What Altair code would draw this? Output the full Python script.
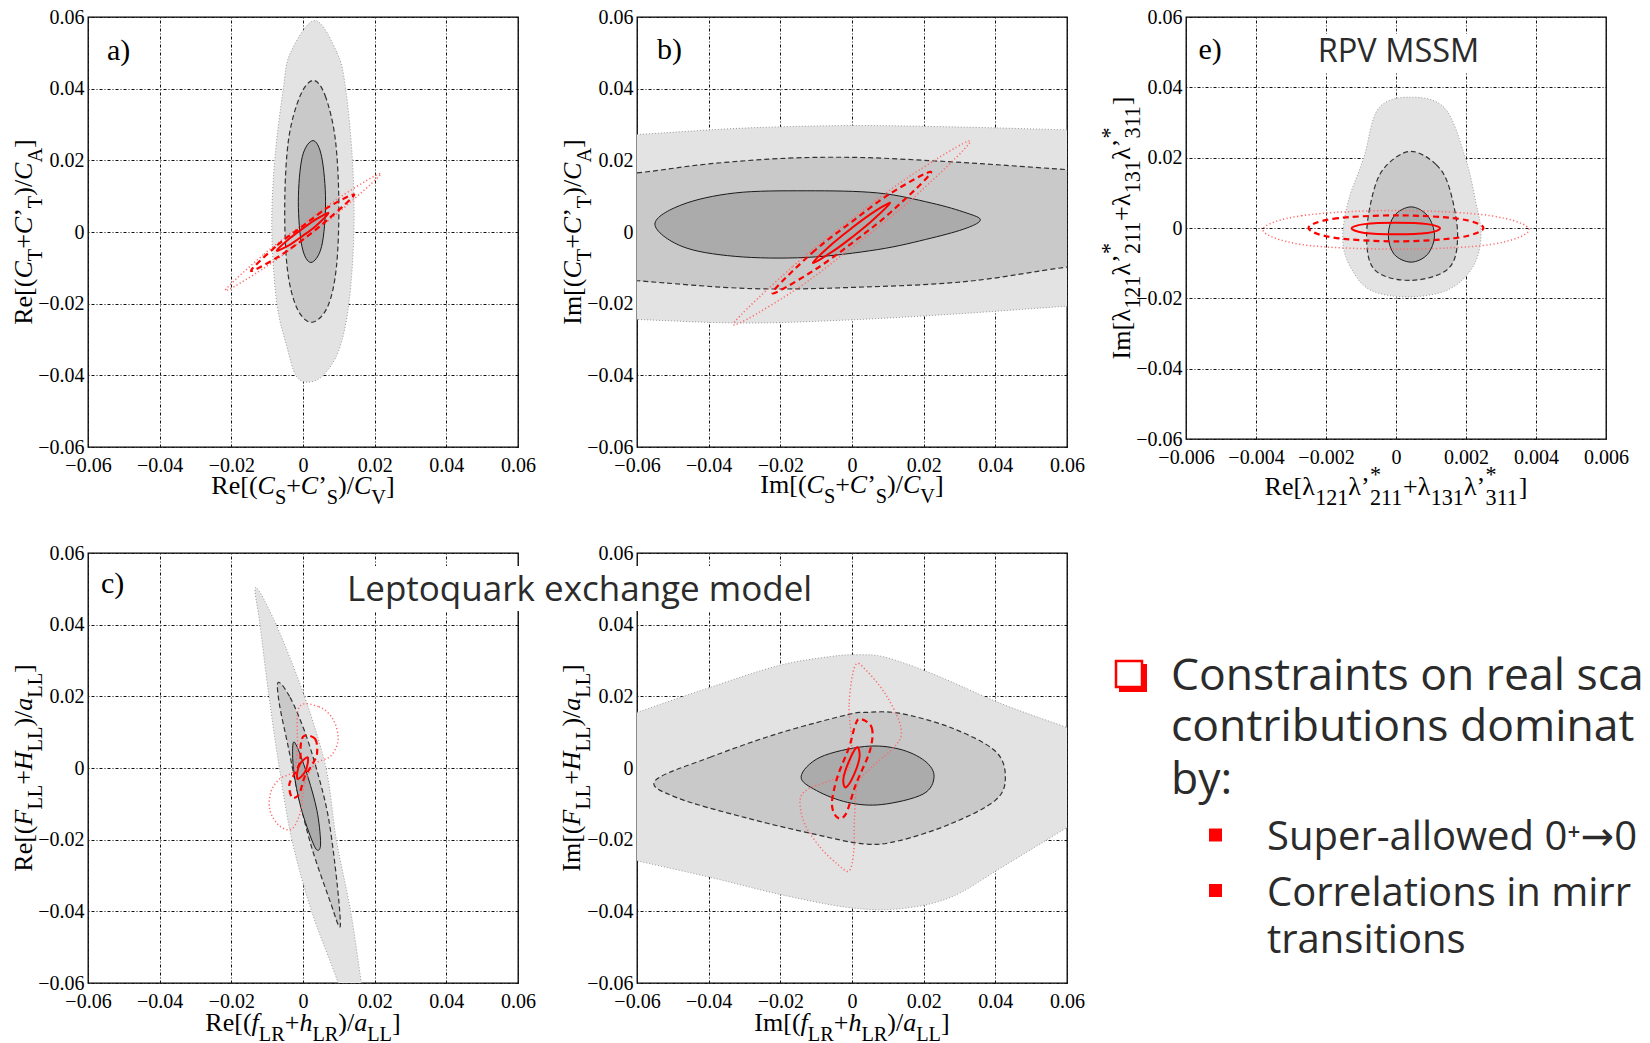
import altair as alt
import pandas as pd

# ---------------- axes ----------------
TICKS = [-0.06, -0.04, -0.02, 0.0, 0.02, 0.04, 0.06]
TICKS_E_X = [-0.006, -0.004, -0.002, 0.0, 0.002, 0.004, 0.006]
DOM = [-0.06, 0.06]
DOM_E_X = [-0.006, 0.006]

# ---------------- contour vertices ----------------
# panel a
A_OUT = [(0.0033, 0.0590), (0.0095, 0.050), (0.0119, 0.040), (0.0138, 0.020), (0.0142, 0.0),
         (0.0128, -0.020), (0.0100, -0.033), (0.0056, -0.040), (0.0013, -0.0419), (-0.0020, -0.040),
         (-0.0045, -0.032), (-0.0073, -0.020), (-0.0087, 0.0), (-0.0079, 0.020), (-0.0055, 0.040),
         (-0.0035, 0.050)]
A_MID = [(0.0029, 0.0423), (0.0062, 0.038), (0.0090, 0.026), (0.0100, 0.008), (0.0093, -0.010),
         (0.0068, -0.021), (0.0023, -0.0252), (-0.0018, -0.021), (-0.0044, -0.010), (-0.0051, 0.008),
         (-0.0040, 0.026), (-0.0008, 0.038)]
A_IN = [(0.0028, 0.0255), (0.0052, 0.021), (0.0063, 0.0085), (0.0052, -0.004), (0.0022, -0.0085),
        (-0.0003, -0.004), (-0.0013, 0.0085), (-0.0002, 0.021)]
A_RDOT = [(-0.0217, -0.0163), (-0.0109, -0.0062), (0.0, 0.0022), (0.0109, 0.0101), (0.0217, 0.0163),
          (0.0109, 0.0063), (0.0, -0.0022), (-0.0109, -0.0101)]
A_RDASH = [(-0.0145, -0.0108), (-0.0072, -0.0037), (0.0, 0.0017), (0.0072, 0.0070), (0.0143, 0.0104),
           (0.0072, 0.0037), (0.0, -0.0021), (-0.0072, -0.0071)]
A_RSOL = [(-0.0073, -0.0052), (-0.0036, -0.0017), (0.0, 0.0010), (0.0036, 0.0035), (0.0071, 0.0053),
          (0.0036, 0.0017), (0.0, -0.0010), (-0.0036, -0.0035)]
# panel b
B_OUT = [(-0.08, 0.0262), (-0.06, 0.0272), (-0.03, 0.0290), (0.0, 0.0297), (0.03, 0.0293), (0.06, 0.0285),
         (0.08, 0.0280), (0.08, -0.0195), (0.06, -0.0207), (0.03, -0.0228), (0.0, -0.0245),
         (-0.03, -0.0254), (-0.06, -0.0244), (-0.08, -0.0236)]
B_MID = [(-0.08, 0.0150), (-0.06, 0.0165), (-0.04, 0.0190), (-0.018, 0.0206), (0.002, 0.0208),
         (0.022, 0.0199), (0.04, 0.0188), (0.06, 0.0174), (0.08, 0.0160), (0.08, -0.0080), (0.06, -0.0098),
         (0.032, -0.0138), (0.002, -0.0154), (-0.028, -0.0158), (-0.06, -0.0136), (-0.08, -0.0120)]
B_IN = [(-0.055, 0.0022), (-0.0475, 0.0076), (-0.0326, 0.0109), (-0.0127, 0.0115), (0.0072, 0.0109),
        (0.0221, 0.0081), (0.032, 0.0053), (0.0358, 0.0034), (0.032, 0.0011), (0.0221, -0.0017),
        (0.0072, -0.0049), (-0.0127, -0.0071), (-0.0326, -0.0068), (-0.0475, -0.0040)]
B_RDOT = [(-0.0331, -0.0258), (-0.0165, -0.0096), (0.0, 0.0037), (0.0165, 0.0158), (0.033, 0.0253),
          (0.0165, 0.0090), (0.0, -0.0043), (-0.0165, -0.0166)]
B_RDASH = [(-0.0222, -0.0170), (-0.0111, -0.0058), (0.0, 0.0029), (0.0111, 0.0110), (0.0221, 0.0167),
           (0.0111, 0.0058), (0.0, -0.0031), (-0.0111, -0.0110)]
B_RSOL = [(-0.0109, -0.0086), (-0.0055, -0.0033), (-0.0002, 0.0010), (0.0052, 0.0050), (0.0106, 0.0081),
          (0.0052, 0.0028), (-0.0002, -0.0016), (-0.0055, -0.0055)]
# panel e
E_OUT = [(0.00043, 0.0372), (0.00140, 0.0340), (0.00198, 0.0200), (0.00228, 0.0074), (0.00243, -0.0021),
         (0.00220, -0.0110), (0.00150, -0.0175), (0.00038, -0.0196), (-0.00070, -0.0178),
         (-0.00125, -0.0120), (-0.00152, -0.0040), (-0.00137, 0.0074), (-0.00092, 0.0200),
         (-0.00050, 0.0340)]
E_MID = [(0.00043, 0.0218), (0.00115, 0.0180), (0.00153, 0.0112), (0.00176, -0.0021), (0.00150, -0.0115),
         (0.00043, -0.0149), (-0.00060, -0.0120), (-0.00084, -0.0021), (-0.00062, 0.0112),
         (-0.00025, 0.0180)]
E_IN = [(0.00043, 0.0060), (0.00090, 0.0035), (0.00110, -0.0021), (0.00090, -0.0075), (0.00043, -0.0097),
        (-0.00005, -0.0075), (-0.00022, -0.0021), (-0.00005, 0.0035)]
E_RDOT = [(-0.0038, -0.0005), (-0.0027, 0.0035), (0.0, 0.0050), (0.0027, 0.0035), (0.0038, -0.0005),
          (0.0027, -0.0047), (0.0, -0.0060), (-0.0027, -0.0047)]
E_RDASH = [(-0.0025, 0.0), (-0.0018, 0.0026), (0.0, 0.0036), (0.0018, 0.0026), (0.0025, 0.0),
           (0.0018, -0.0027), (0.0, -0.0038), (-0.0018, -0.0027)]
E_RSOL = [(-0.00127, -0.0001), (-0.0009, 0.0011), (0.0, 0.0015), (0.0009, 0.0011), (0.00126, -0.0001),
          (0.0009, -0.0014), (0.0, -0.0018), (-0.0009, -0.0014)]
# panel c
C_OUT = [(-0.0132, 0.0504), (-0.0075, 0.040), (0.0004, 0.020), (0.0064, 0.0), (0.0093, -0.020),
         (0.0133, -0.040), (0.0163, -0.060), (0.0180, -0.070), (0.0140, -0.075), (0.0098, -0.060),
         (0.0024, -0.040), (-0.0031, -0.020), (-0.0066, 0.0), (-0.0095, 0.020), (-0.0120, 0.040)]
C_MID = [(-0.0069, 0.0239), (-0.0036, 0.0197), (0.0004, 0.0104), (0.0039, -0.0007), (0.0069, -0.0128),
         (0.0089, -0.0268), (0.0103, -0.0407), (0.0101, -0.0443), (0.0078, -0.0379), (0.0024, -0.0221),
         (-0.0016, -0.0063), (-0.0041, 0.0058), (-0.0066, 0.0179)]
C_IN = [(-0.0028, 0.0067), (-0.0016, 0.0058), (0.0014, -0.0026), (0.0039, -0.0119), (0.0049, -0.0203),
        (0.0044, -0.0229), (0.0029, -0.0212), (-0.0006, -0.0110), (-0.0026, -0.0007)]
C_RDOT = [(-0.0011, 0.0169), (0.0044, 0.0171), (0.0083, 0.0137), (0.0098, 0.0081), (0.0078, 0.0034),
          (0.0034, 0.0011), (0.0004, -0.0045), (-0.0006, -0.0119), (-0.0031, -0.0170), (-0.0066, -0.0161),
          (-0.0092, -0.0119), (-0.0090, -0.0068), (-0.0066, -0.0031), (-0.0026, -0.0007), (-0.0016, 0.0058)]
C_RDASH = [(0.0004, 0.0090), (0.0034, 0.0081), (0.0039, 0.0039), (0.0024, 0.0007), (0.0004, -0.0026),
           (-0.0011, -0.0073), (-0.0031, -0.0082), (-0.0038, -0.0045), (-0.0021, -0.0012), (-0.0008, 0.0020),
           (-0.0006, 0.0067)]
C_RSOL = [(-0.0014, -0.0031), (-0.0016, -0.0012), (-0.0008, 0.0012), (0.0012, 0.0030), (0.0013, 0.0012),
          (0.0005, -0.0012)]
# panel d
D_OUT = [(-0.08, 0.0086), (-0.06, 0.0155), (-0.0396, 0.0225), (-0.0204, 0.0286), (-0.0060, 0.0311),
         (0.0016, 0.0316), (0.0093, 0.0309), (0.0227, 0.0262), (0.0418, 0.0179), (0.06, 0.0113),
         (0.08, 0.0043), (0.08, -0.0046), (0.06, -0.0166), (0.0418, -0.0277), (0.0275, -0.0361),
         (0.0131, -0.0393), (-0.0012, -0.0389), (-0.0204, -0.0352), (-0.0396, -0.0305), (-0.06, -0.0259),
         (-0.08, -0.0214)]
D_MID = [(-0.0549, -0.0035), (-0.0396, 0.0030), (-0.0204, 0.0097), (-0.0012, 0.0149), (0.0035, 0.0155),
         (0.0131, 0.0153), (0.0275, 0.0113), (0.0399, 0.0048), (0.0428, -0.0026), (0.0399, -0.0091),
         (0.0275, -0.0156), (0.0131, -0.0203), (0.0035, -0.0212), (-0.0108, -0.0184), (-0.0300, -0.0138),
         (-0.0491, -0.0082)]
D_IN = [(-0.0142, -0.0024), (-0.0089, 0.0030), (0.0035, 0.0060), (0.0131, 0.0053), (0.0203, 0.0020),
        (0.0229, -0.0024), (0.0198, -0.0073), (0.0083, -0.0102), (-0.0012, -0.0096), (-0.0099, -0.0063)]
D_RDOT = [(-0.0001, 0.0067), (-0.0008, 0.0179), (0.0009, 0.0286), (0.0040, 0.0272), (0.0093, 0.0207),
          (0.0131, 0.0132), (0.0136, 0.0086), (0.0107, 0.0048), (0.0055, 0.0002), (0.0016, -0.0045),
          (0.0007, -0.0138), (0.0005, -0.0231), (-0.0008, -0.0287), (-0.0041, -0.0268), (-0.0089, -0.0221),
          (-0.0132, -0.0156), (-0.0145, -0.0091), (-0.0123, -0.0059), (-0.0060, -0.0035), (-0.0012, -0.0007)]
D_RDASH = [(0.0021, 0.0137), (0.0055, 0.0113), (0.0050, 0.0048), (0.0011, -0.0045), (-0.0017, -0.0128),
           (-0.0041, -0.0138), (-0.0056, -0.0100), (-0.0041, -0.0026), (-0.0008, 0.0058), (0.0007, 0.0113)]
D_RSOL = [(0.0014, 0.0058), (0.0021, 0.0030), (0.0005, -0.0020), (-0.0017, -0.0054), (-0.0024, -0.0030),
          (-0.0008, 0.0020)]

# ---------------- texts ----------------
RPV_TEXT = "RPV MSSM"
LQ_TEXT = "Leptoquark exchange model"
BULLET_MAIN = ["Constraints on real scalar", "contributions dominated", "by:"]
BULLET_SUB = ["Super-allowed 0\u207a\u21920\u207a", "Correlations in mirror", "transitions"]

T_A_X = [("Re[(", "r"), ("C", "i"), ("S", "sub"), ("+", "r"), ("C", "i"), ("\u2019", "r"), ("S", "sub"),
         (")/", "r"), ("C", "i"), ("V", "sub"), ("]", "r")]
T_A_Y = [("Re[(", "r"), ("C", "i"), ("T", "sub"), ("+", "r"), ("C", "i"), ("\u2019", "r"), ("T", "sub"),
         (")/", "r"), ("C", "i"), ("A", "sub"), ("]", "r")]
T_B_X = [("Im[(", "r")] + T_A_X[1:]
T_B_Y = [("Im[(", "r")] + T_A_Y[1:]
T_E_X = [("Re[", "r"), ("\u03bb", "r"), ("121", "sub"), ("\u03bb\u2019", "r"), ("*", "sup"), ("211", "sub"),
         ("+", "r"), ("\u03bb", "r"), ("131", "sub"), ("\u03bb\u2019", "r"), ("*", "sup"), ("311", "sub"),
         ("]", "r")]
T_E_Y = [("Im[", "r")] + T_E_X[1:]
T_C_X = [("Re[(", "r"), ("f", "i"), ("LR", "sub"), ("+", "r"), ("h", "i"), ("LR", "sub"), (")/", "r"),
         ("a", "i"), ("LL", "sub"), ("]", "r")]
T_C_Y = [("Re[(", "r"), ("F", "i"), ("LL", "sub"), ("+", "r"), ("H", "i"), ("LL", "sub"), (")/", "r"),
         ("a", "i"), ("LL", "sub"), ("]", "r")]
T_D_X = [("Im[(", "r")] + T_C_X[1:]
T_D_Y = [("Im[(", "r")] + T_C_Y[1:]

# ---------------- styles ----------------
STY = {
    "out": dict(fill="#e3e3e3", stroke="#9a9a9a", strokeDash=[1, 2], strokeWidth=1),
    "mid": dict(fill="#c9c9c9", stroke="#333333", strokeDash=[5, 3], strokeWidth=1.2),
    "in": dict(fill="#ababab", stroke="#1a1a1a", strokeWidth=1),
    "rdot": dict(stroke="#ff6a6a", strokeDash=[1.2, 2.4], strokeWidth=1.5),
    "rdash": dict(stroke="#ff0000", strokeDash=[6, 4], strokeWidth=2.2),
    "rsol": dict(stroke="#ff0000", strokeWidth=2),
}
AX = dict(title=None, grid=True, gridColor="#111111", gridDash=[1, 2, 3, 2], gridWidth=1, gridOpacity=1,
          ticks=False, tickSize=0, domain=False, labelFont="Liberation Serif", labelFontSize=20,
          labelColor="black", labelFlush=False, labelOverlap=False)
SANS = "Open Sans, DejaVu Sans"
SERIF = "Liberation Serif"
TXT = "#2b2b2b"
CUT = "\u200b"  # text is cut at the page edge, with no visible ellipsis

RW = {"R": .667, "e": .444, "I": .333, "m": .778, "[": .333, "]": .333, "(": .333, ")": .333, "+": .564,
      "/": .278, "\u2019": .333, "S": .556, "V": .722, "T": .611, "A": .722, "L": .611, "\u03bb": .5,
      "*": .5, "1": .5, "2": .5, "3": .5}
IW = {"C": .667, "F": .611, "H": .722, "a": .5, "f": .278, "h": .5}


def rich_rows(segs, F, r):
    rows, pos = [], 0.0
    for text, kind in segs:
        if kind == "i":
            w, off = sum(IW.get(c, .5) for c in text) * F, 0.0
        elif kind == "r":
            w, off = sum(RW.get(c, .5) for c in text) * F, 0.0
        elif kind == "sub":
            w, off = sum(RW.get(c, .5) for c in text) * F * r, 0.4 * F
        else:  # sup, stacked over the following subscript
            w, off = 0.0, -0.5 * F
        rows.append(dict(t=text, k=kind, p=pos, o=off))
        pos += w
    return rows, pos


def px_enc(ch):
    return ch.encode(x=alt.X("px:Q", scale=None), y=alt.Y("py:Q", scale=None), text="t:N")


def title_layers(segs, orient, w, h, dist, F=26, r=0.78):
    rows, total = rich_rows(segs, F, r)
    for rw in rows:
        if orient == "x":
            rw["px"] = w / 2 - total / 2 + rw["p"]
            rw["py"] = h + dist + rw["o"]
        else:
            rw["px"] = -dist + rw["o"]
            rw["py"] = h / 2 + total / 2 - rw["p"]
    angle = 0 if orient == "x" else 270
    out = []
    for key, size, style in [("r", F, "normal"), ("i", F, "italic"), ("s", F * r, "normal")]:
        sel = [rw for rw in rows if ((rw["k"] in ("sub", "sup")) if key == "s" else rw["k"] == key)]
        if sel:
            out.append(px_enc(alt.Chart(pd.DataFrame(sel)).mark_text(
                font=SERIF, fontSize=size, fontStyle=style, align="left", baseline="alphabetic",
                angle=angle, color="black")))
    return out


def label_layer(text, x, y):
    return px_enc(alt.Chart(pd.DataFrame([dict(t=text, px=x, py=y)])).mark_text(
        font=SERIF, fontSize=30, align="left", baseline="alphabetic", color="black"))


def box_layer(x0, x1, y0, y1):
    df = pd.DataFrame(dict(px=[x0], px2=[x1], py=[y0], py2=[y1]))
    return alt.Chart(df).mark_rect(color="white").encode(
        x=alt.X("px:Q", scale=None), x2="px2:Q", y=alt.Y("py:Q", scale=None), y2="py2:Q")


def panel(shapes, xdom, xticks, xfmt, w, h, extras):
    xs = alt.Scale(domain=xdom, nice=False, zero=False)
    ys = alt.Scale(domain=DOM, nice=False, zero=False)
    xax = alt.Axis(values=xticks, format=xfmt, labelPadding=8, **AX)
    yax = alt.Axis(values=TICKS, format=".2~f", labelPadding=4, **AX)
    layers = []
    for pts, st in shapes:
        df = pd.DataFrame({"x": [p[0] for p in pts], "y": [p[1] for p in pts], "i": list(range(len(pts)))})
        layers.append(alt.Chart(df).mark_line(interpolate="cardinal-closed", clip=True, **STY[st]).encode(
            x=alt.X("x:Q", scale=xs, axis=xax), y=alt.Y("y:Q", scale=ys, axis=yax), order=alt.Order("i:Q")))
    return alt.layer(*(layers + extras)).properties(width=w, height=h)


W, H = 430, 430
WE, HE = 420, 422

pa = panel([(A_OUT, "out"), (A_MID, "mid"), (A_IN, "in"), (A_RDOT, "rdot"), (A_RDASH, "rdash"), (A_RSOL, "rsol")],
           DOM, TICKS, ".2~f", W, H,
           [label_layer("a)", 19, 43)] + title_layers(T_A_X, "x", W, H, 47) + title_layers(T_A_Y, "y", W, H, 56))
pb = panel([(B_OUT, "out"), (B_MID, "mid"), (B_IN, "in"), (B_RDOT, "rdot"), (B_RDASH, "rdash"), (B_RSOL, "rsol")],
           DOM, TICKS, ".2~f", W, H,
           [label_layer("b)", 20, 42)] + title_layers(T_B_X, "x", W, H, 46) + title_layers(T_B_Y, "y", W, H, 56))
pe = panel([(E_OUT, "out"), (E_MID, "mid"), (E_IN, "in"), (E_RDOT, "rdot"), (E_RDASH, "rdash"), (E_RSOL, "rsol")],
           DOM_E_X, TICKS_E_X, ".3~f", WE, HE,
           [box_layer(119, 298, 17, 55),
            px_enc(alt.Chart(pd.DataFrame([dict(t=RPV_TEXT, px=212.5, py=45)])).mark_text(
                font=SANS, fontSize=32.5, align="center", baseline="alphabetic", color=TXT)),
            label_layer("e)", 12.5, 42)]
           + title_layers(T_E_X, "x", WE, HE, 56, r=0.85) + title_layers(T_E_Y, "y", WE, HE, 56, r=0.85))
pc = panel([(C_OUT, "out"), (C_MID, "mid"), (C_IN, "in"), (C_RDOT, "rdot"), (C_RDASH, "rdash"), (C_RSOL, "rsol")],
           DOM, TICKS, ".2~f", W, H,
           [label_layer("c)", 13, 40)] + title_layers(T_C_X, "x", W, H, 48) + title_layers(T_C_Y, "y", W, H, 56))
pd_ = panel([(D_OUT, "out"), (D_MID, "mid"), (D_IN, "in"), (D_RDOT, "rdot"), (D_RDASH, "rdash"), (D_RSOL, "rsol")],
            DOM, TICKS, ".2~f", W, H,
            [box_layer(-297, 186, 13, 58),
             px_enc(alt.Chart(pd.DataFrame([dict(t=LQ_TEXT, px=-290, py=48)])).mark_text(
                 font=SANS, fontSize=35, align="left", baseline="alphabetic", color=TXT))]
            + title_layers(T_D_X, "x", W, H, 48) + title_layers(T_D_Y, "y", W, H, 57))

# text block on the lower right (cut at the right edge of the page, as in the reference)
main_rows = [dict(t=s, px=-15, py=y) for s, y in zip(BULLET_MAIN, [137, 188, 241])]
sub_rows = [dict(t=s, px=81, py=y) for s, y in zip(BULLET_SUB, [297, 353, 400])]
sq = pd.DataFrame(dict(px=[29.5, 29.5], py=[282, 337.5]))
shadow = pd.DataFrame(dict(px=[-53], py=[125]))
hollow = pd.DataFrame(dict(px=[-57], py=[121]))
pt = alt.layer(
    alt.Chart(shadow).mark_square(size=784, color="#ff0000", opacity=1).encode(
        x=alt.X("px:Q", scale=None), y=alt.Y("py:Q", scale=None)),
    alt.Chart(hollow).mark_square(size=676, filled=True, fill="white", stroke="#ff0000", strokeWidth=2.5,
                                  opacity=1).encode(
        x=alt.X("px:Q", scale=None), y=alt.Y("py:Q", scale=None)),
    px_enc(alt.Chart(pd.DataFrame(main_rows)).mark_text(
        font=SANS, fontSize=44.5, align="left", baseline="alphabetic", color=TXT, limit=476, ellipsis=CUT)),
    alt.Chart(sq).mark_square(size=169, color="#ff0000", opacity=1).encode(
        x=alt.X("px:Q", scale=None), y=alt.Y("py:Q", scale=None)),
    px_enc(alt.Chart(pd.DataFrame(sub_rows)).mark_text(
        font=SANS, fontSize=40, align="left", baseline="alphabetic", color=TXT, limit=380, ellipsis=CUT)),
).properties(width=452, height=430, view=alt.ViewBackground(stroke="transparent"))

chart = alt.concat(pa, pb, pe, pc, pd_, pt, columns=3, spacing={"row": 106, "column": 119},
                   bounds="flush", align="each").configure_view(
    stroke="black", strokeWidth=1.3).properties(
    padding={"left": 10, "top": 6, "right": 0, "bottom": 0}, background="white")

chart.save("out.html", embed_options={"renderer": "svg", "actions": False})
